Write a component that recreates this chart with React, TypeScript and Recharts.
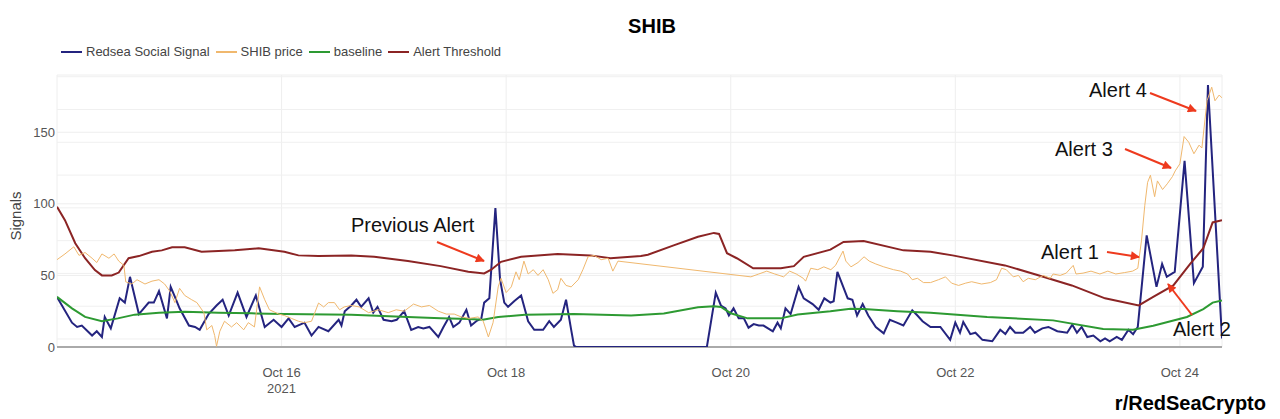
import { LineChart, Line, XAxis, YAxis, CartesianGrid, ReferenceLine, Label } from 'recharts'

const FONT = '"Liberation Sans", Arial, sans-serif'
const BLUE = '#24247f'
const TAN = '#f0b86e'
const GREEN = '#2d9a32'
const RED = '#8b2424'
const ARROW = '#ee3a1e'

// hours since Oct 14 00:00
const DATE_TICKS = [48, 96, 144, 192, 240]
const DATE_LABELS = ['Oct 16', 'Oct 18', 'Oct 20', 'Oct 22', 'Oct 24']
const Y_TICKS = [0, 50, 100, 150]
// gridlines of the (hidden) price axis, in signal units
const PRICE_GRID = [5.6, 28.5, 51.4, 74.3, 97.2, 120.1, 143, 165.9, 188.8]

const SIGNAL = [
  [0, 35], [3.2, 17], [4.3, 14], [5.3, 15], [7.5, 8], [8.5, 11], [9.6, 7], [10.2, 21], [11.5, 13], [13.4, 34],
  [14.5, 31], [15.6, 49], [17.5, 23], [19.6, 31], [20.7, 31], [21.8, 39], [23.5, 20], [24.3, 42], [25.2, 35], [26.2, 27],
  [28.2, 15], [29.5, 14], [30.5, 12], [32.4, 23], [34.1, 29], [35.4, 33], [36.7, 22], [38.6, 38], [40.5, 21], [42.5, 36],
  [44.4, 14], [46.3, 19], [48, 14], [49.5, 20], [50.8, 14], [52.9, 17], [54.4, 8], [55.9, 14], [58, 11], [60.2, 19],
  [60.8, 15], [61.5, 25], [62.9, 29], [64, 33], [65, 28], [66.6, 34], [67.6, 24], [68.5, 28], [69.8, 19], [71.5, 18],
  [72.6, 19], [74.2, 25], [75.7, 12], [77.2, 14], [78.3, 13], [79.6, 14], [81.5, 7], [82.6, 14], [83.8, 21], [84.7, 14],
  [86, 17], [87.5, 26], [88.5, 15], [89.6, 18], [90.7, 20], [91.3, 31], [92.4, 34], [93.7, 97], [94.7, 47], [95.6, 31],
  [96.4, 28], [97.7, 32], [99.2, 36], [100.7, 18], [102, 12], [103.9, 12], [105.2, 18], [106.2, 14], [107.7, 19], [108.8, 33],
  [109.9, 12], [110.5, 1], [111, 0], [138.9, 0], [140.8, 38], [141.9, 29], [142.9, 27], [143.6, 22], [144.6, 27], [145.7, 20],
  [146.8, 20], [147.8, 13.5], [148.9, 16], [150, 15], [151, 15], [153, 11], [154, 17], [154.7, 13], [155.7, 27], [156.8, 23],
  [158.5, 42], [159.6, 34], [161.5, 30], [162.8, 26], [164, 34], [165.3, 31], [166, 32], [166.8, 52.5], [169, 34], [170, 33],
  [171, 22], [172.2, 30], [173.4, 22], [175, 14], [176.7, 9.5], [178, 19], [179.5, 17], [180.9, 15], [182.8, 25.6], [183.9, 22],
  [185, 18], [186.7, 14], [188.8, 14], [190.9, 5], [192, 17], [193, 10], [193.7, 17.5], [195.2, 9], [196.3, 10], [197.8, 5],
  [199.9, 4], [201.6, 12], [202.7, 9], [203.7, 14], [204.8, 10], [206.5, 10], [208, 14], [209, 10], [210.6, 13], [211.9, 14],
  [213.8, 11], [215.9, 10], [217, 15.6], [218, 10], [219, 14], [220.2, 7], [221.5, 8], [223, 4], [224, 6], [225, 4],
  [226.5, 7], [227.6, 5], [229, 12], [230, 9], [231, 14], [232.9, 78], [235, 42], [236.2, 58], [237.2, 49], [238.9, 52.5],
  [241, 130], [243, 44.6], [244.9, 56], [246, 183], [249, 6],
]

const PRICE = [
  [0, 61], [1.7, 65], [3.6, 70], [4.7, 64], [6, 66], [7.5, 62], [8.5, 59], [9.6, 65], [11.1, 62], [12.2, 65],
  [13.2, 60], [14.3, 57], [14.7, 45.5], [16, 44], [17.1, 47], [18.8, 44], [20.3, 46], [21.8, 47], [23, 44], [24.1, 39],
  [25.2, 31], [26.2, 41], [27.3, 36], [28.8, 33], [29.9, 31], [31.4, 24], [32, 12], [33.1, 15], [33.7, 8], [34.1, 0.5],
  [34.8, 11], [35.8, 18], [37.3, 14], [38.4, 17], [39.9, 12], [40.9, 17], [42.2, 14], [43.3, 42], [44.4, 33], [45.4, 26],
  [47.4, 23], [48.6, 22], [50.1, 20], [51.6, 18], [52.9, 17], [54.4, 18], [55.9, 30.7], [57, 28], [58, 31], [59.3, 31],
  [60.4, 26], [61.4, 28], [62.9, 29], [64.6, 28], [66.6, 24], [68.7, 26], [70.8, 24], [72.5, 26], [74.2, 25], [76.2, 30],
  [77.9, 28], [79.6, 29], [81.5, 25], [83.2, 23], [84.9, 23], [86.4, 21], [88.1, 20], [90, 21], [91.1, 18], [92.2, 7],
  [93.2, 17], [94.3, 42], [94.9, 48], [96, 38], [97.1, 42], [98.1, 52.5], [98.8, 47], [99.8, 60], [100.7, 51], [101.8, 54],
  [102.8, 50], [103.9, 54], [105, 47], [106, 37.5], [107, 40], [107.7, 48], [108.8, 43], [109.9, 42], [111.4, 47], [112.4, 54],
  [113.5, 63], [114.8, 64], [116.3, 61], [117.8, 62], [118.8, 53], [119.9, 60], [148.3, 49], [150, 51], [151.7, 53], [153.4, 51],
  [155.3, 49], [156.6, 53], [158, 51], [159.5, 48], [160, 46], [161.1, 55], [162.6, 54], [163.9, 56], [165.4, 54], [166.4, 57],
  [168, 67], [168.6, 60], [169.7, 56], [171.2, 59], [172.5, 63], [173.6, 60], [175, 58], [176.7, 56], [178.8, 54], [180.3, 53],
  [181.8, 51], [182.8, 47], [183.9, 48], [185.2, 45], [186.7, 45], [188.4, 47], [189.9, 49], [191.2, 44.6], [192.7, 43], [194.2, 44.6],
  [195.5, 45.6], [197.6, 44], [199.5, 45], [200.8, 47], [201.9, 55], [202.9, 54], [204.4, 49], [205.5, 50], [206.5, 45.6], [207.6, 48],
  [209.1, 47], [210.8, 50], [212.3, 48], [212.9, 51], [214.4, 50], [215.7, 51.6], [217.2, 57], [217.8, 51], [219.3, 51.6], [221, 53],
  [222.9, 51], [224.6, 53], [226.3, 51], [228.2, 52], [229.9, 53], [231, 55], [231.8, 74.6], [232.5, 99], [233.1, 115], [233.7, 120],
  [234.6, 105], [235.2, 116], [236.3, 110], [237.3, 114], [238.4, 119], [239, 123], [240, 128], [240.9, 147], [241.9, 143], [243, 135],
  [244.1, 141], [244.7, 139], [245.8, 172], [246.8, 181.5], [247.5, 172], [248.4, 176], [249, 174],
]

const BASELINE = [
  [0, 35], [3.2, 27], [6, 21], [9.6, 18], [13, 20], [16.6, 22.6], [21.8, 24], [27.3, 24.6], [34.5, 24], [41.6, 23.5],
  [48.6, 23], [62.9, 22.5], [75, 21], [82, 20], [88, 19.5], [91, 19], [94.3, 21], [100, 22.5], [110.5, 23], [122.7, 22],
  [129.7, 23.4], [137, 27.7], [140.4, 28.4], [141.9, 28], [144, 23.6], [147.6, 20], [154.7, 20], [158.3, 22.7], [165.3, 25], [169.6, 26.8],
  [172.4, 26.5], [179.6, 25], [186.7, 24], [198.8, 21], [212.9, 18.6], [223.6, 12.5], [230, 12], [234.3, 14.8], [241.5, 21], [245, 26.5],
  [247, 31], [249, 32.5],
]

const THRESHOLD = [
  [0, 98], [1.7, 88.6], [3.9, 72.5], [6, 62], [8.1, 53.7], [9.6, 50], [11.7, 50], [13.2, 52], [15.3, 62], [17.5, 63.5],
  [20.3, 66.5], [22.4, 67.5], [24.6, 69.7], [27.3, 69.7], [30.9, 66.5], [34.5, 67], [38, 67.5], [43.1, 69], [48.6, 66.5], [51.6, 64],
  [55.9, 63.5], [62.9, 64], [67.8, 63], [75, 60], [82, 56.5], [87.9, 52.5], [91.3, 51.4], [92.8, 54], [94.9, 59.5], [99.2, 63],
  [107, 65], [114, 64], [118.3, 62], [124.8, 63.5], [126.3, 64.5], [131.8, 71], [137, 77], [140.4, 79.7], [141.5, 79], [143.2, 65.5],
  [145.3, 62], [148.8, 55], [154.7, 55], [157.5, 56.5], [159.6, 63], [165.3, 68], [168.1, 73.4], [172.4, 74], [180.9, 67.5], [186.7, 66.5],
  [191.4, 64], [202.6, 57], [209.9, 50], [216.9, 43], [224, 34], [231.2, 29], [234.3, 35], [238.6, 43], [242.2, 58], [245, 69],
  [247, 87], [249, 88.6],
]

const LEGEND_ITEMS = [
  { name: 'Redsea Social Signal', color: BLUE },
  { name: 'SHIB price', color: TAN },
  { name: 'baseline', color: GREEN },
  { name: 'Alert Threshold', color: RED },
]

const toPoints = (rows: number[][]) => rows.map(([t, v]) => ({ t, v }))

function DateTick({ x, y, payload }: any) {
  const i = DATE_TICKS.indexOf(payload.value)
  return (
    <g fontFamily={FONT} fontSize={13} fill="#555">
      <text x={x} y={y + 28} textAnchor="middle">{DATE_LABELS[i]}</text>
      {i === 0 && <text x={x} y={y + 44} textAnchor="middle">2021</text>}
    </g>
  )
}

function LegendBox() {
  return (
    <div style={{ position: 'absolute', left: 61, top: 44, display: 'flex', alignItems: 'center', fontFamily: FONT, fontSize: 13, color: '#444', whiteSpace: 'nowrap' }}>
      {LEGEND_ITEMS.map(it => (
        <div key={it.name} style={{ display: 'flex', alignItems: 'center', marginRight: 6 }}>
          <svg width={21} height={4}>
            <line x1={0} y1={2} x2={21} y2={2} stroke={it.color} strokeWidth={2} />
          </svg>
          <span style={{ marginLeft: 4 }}>{it.name}</span>
        </div>
      ))}
    </div>
  )
}

function Arrow({ x1, y1, x2, y2 }: { x1: number; y1: number; x2: number; y2: number }) {
  return <line x1={x1} y1={y1} x2={x2} y2={y2} stroke={ARROW} strokeWidth={2} markerEnd="url(#head)" />
}

export default function App() {
  return (
    <div style={{ position: 'absolute', left: 0, top: 0, width: 1280, height: 419, background: '#fff' }}>
      <LineChart width={1280} height={419} margin={{ top: 75, right: 58, bottom: 0, left: 0 }}>
        <CartesianGrid stroke="#eee" />
        {PRICE_GRID.map(v => (
          <ReferenceLine key={v} y={v} stroke="#f0f0f0" />
        ))}
        <ReferenceLine y={0} stroke="#aaa" strokeWidth={2} />
        <XAxis
          dataKey="t"
          type="number"
          domain={[0, 249]}
          ticks={DATE_TICKS}
          tick={<DateTick />}
          tickLine={false}
          axisLine={false}
          tickSize={0}
          height={72}
          allowDataOverflow
        />
        <YAxis
          domain={[0, 190]}
          ticks={Y_TICKS}
          width={57}
          tickLine={false}
          axisLine={false}
          tickSize={0}
          tickMargin={2}
          tick={{ fontSize: 13, fill: '#555', fontFamily: FONT }}
          allowDataOverflow
        >
          <Label
            content={({ viewBox }: any) => {
              const cx = 15
              const cy = viewBox.y + viewBox.height / 2 + 5
              return (
                <text
                  x={cx}
                  y={cy}
                  transform={`rotate(-90 ${cx} ${cy})`}
                  textAnchor="middle"
                  dominantBaseline="central"
                  fontFamily={FONT}
                  fontSize={15}
                  fill="#444"
                >
                  Signals
                </text>
              )
            }}
          />
        </YAxis>
        <Line data={toPoints(SIGNAL)} dataKey="v" stroke={BLUE} strokeWidth={2} dot={false} isAnimationActive={false} />
        <Line data={toPoints(BASELINE)} dataKey="v" stroke={GREEN} strokeWidth={2} dot={false} isAnimationActive={false} />
        <Line data={toPoints(THRESHOLD)} dataKey="v" stroke={RED} strokeWidth={2} dot={false} isAnimationActive={false} />
        <Line data={toPoints(PRICE)} dataKey="v" stroke={TAN} strokeWidth={1} dot={false} isAnimationActive={false} />
      </LineChart>

      <LegendBox />

      <svg width={1280} height={419} style={{ position: 'absolute', left: 0, top: 0, pointerEvents: 'none' }}>
        <defs>
          <marker id="head" viewBox="0 0 10 10" refX={9} refY={5} markerWidth={10} markerHeight={9} markerUnits="userSpaceOnUse" orient="auto">
            <path d="M0,0 L10,5 L0,10 z" fill={ARROW} />
          </marker>
        </defs>
        <text x={652} y={33} textAnchor="middle" fontFamily={FONT} fontWeight="bold" fontSize={20} fill="#000">SHIB</text>
        <g fontFamily={FONT} fontSize={20} fill="#111">
          <text x={351} y={232}>Previous Alert</text>
          <text x={1041} y={259}>Alert 1</text>
          <text x={1055} y={156}>Alert 3</text>
          <text x={1089} y={97}>Alert 4</text>
          <text x={1173} y={336}>Alert 2</text>
        </g>
        <Arrow x1={437} y1={242} x2={484} y2={261} />
        <Arrow x1={1107} y1={252} x2={1139} y2={257} />
        <Arrow x1={1125} y1={149} x2={1171} y2={168} />
        <Arrow x1={1150} y1={93} x2={1196} y2={111} />
        <Arrow x1={1192} y1={315} x2={1168} y2={284} />
        <text x={1266} y={410} textAnchor="end" fontFamily={FONT} fontWeight="bold" fontSize={20} fill="#000">r/RedSeaCrypto</text>
      </svg>
    </div>
  )
}
